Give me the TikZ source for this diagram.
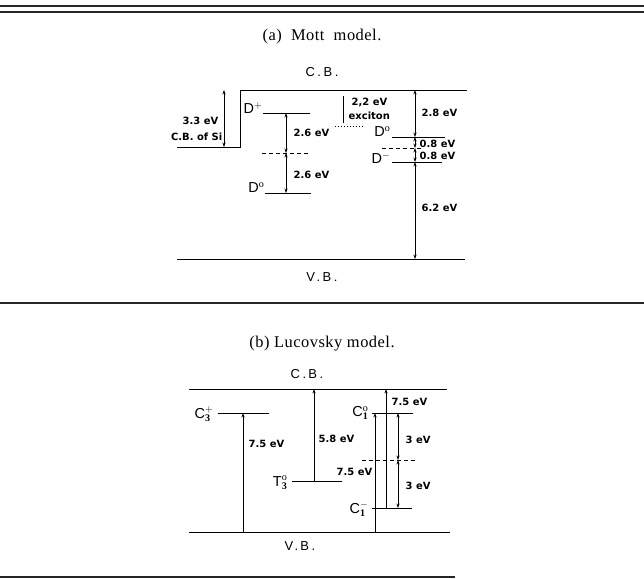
\documentclass[tikz,border=0pt]{standalone}
\usepackage{fontspec}
\setmainfont{Liberation Serif}
\newfontfamily\capfont[LetterSpace=3]{Liberation Serif}
\newfontfamily\labfont{DejaVu Sans}
\newfontfamily\bandfont[LetterSpace=20]{Liberation Sans}
\newfontfamily\lvlfont{Liberation Sans}
\usetikzlibrary{arrows.meta}
\tikzset{
  rule/.style={line width=1.4pt, black!85},
  level/.style={line width=0.9pt},
  dashlevel/.style={line width=0.8pt, dash pattern=on 4pt off 3pt},
  arr/.style={line width=0.6pt, -{Stealth[length=4.5pt,width=3.2pt]}},
  darr/.style={line width=0.6pt, {Stealth[length=4.5pt,width=3.2pt]}-{Stealth[length=4.5pt,width=3.2pt]}},
  ev/.style={font=\labfont\bfseries\fontsize{10}{11}\selectfont, inner sep=0.5pt},
  band/.style={font=\bandfont\fontsize{13}{14}\selectfont, inner sep=0.5pt},
  lvl/.style={font=\lvlfont\fontsize{14.5}{15}\selectfont, inner sep=0.5pt, anchor=east},
  captext/.style={font=\capfont\fontsize{16.5}{18}\selectfont, inner sep=0pt}
}
\begin{document}
\begin{tikzpicture}[x=1bp,y=-1bp]
\useasboundingbox (0,0) rectangle (644,579);
% rules
\draw[rule] (0,6) -- (644,6);
\draw[rule, line width=1.8pt] (0,12) -- (644,12);
\draw[rule] (0,303) -- (644,303);
\draw[rule, line width=1.1pt] (0,577) -- (455,577);

% ================= (a) Mott model
\node[captext] (capa) at (322,37) {(a)\ \ Mott\ \ model.};
\node[band] (cba) at (322,72) {C.B.};
\node[band] (vba) at (322,277) {V.B.};

\coordinate (si0) at (177,147);
\coordinate (si1) at (240,147);
\coordinate (cb0) at (240,90);
\coordinate (cb1) at (467,90);
\draw[level] (si0) -- (si1) -- (cb0) -- (cb1);
\coordinate (vb0) at (177,259);
\coordinate (vb1) at (465,259);
\draw[level] (vb0) -- (vb1);

% 3.3 eV
\coordinate (s33a) at (224,147);
\coordinate (s33b) at (224,90);
\draw[darr] (s33a) -- (s33b);
\node[ev, anchor=east] (l33) at (219,121) {3.3 eV};
\node[ev, anchor=east] (lsi) at (223,137) {C.B. of Si};

% D+ / D0 left
\coordinate (dp0) at (263,113); \coordinate (dp1) at (310,113);
\draw[level] (dp0) -- (dp1);
\node[lvl] (ldp) at (263,108) {D$^{\mathbf{+}}$};
\coordinate (dm0) at (262,153); \coordinate (dm1) at (310,153);
\draw[dashlevel] (dm0) -- (dm1);
\coordinate (dz0) at (265,193); \coordinate (dz1) at (311,193);
\draw[level] (dz0) -- (dz1);
\node[lvl] (ldz) at (265,188) {D$^{\mathrm{o}}$};
\coordinate (a1) at (286,113); \coordinate (a2) at (286,153); \coordinate (a3) at (286,193);
\draw[darr] (a1) -- (a2);
\draw[darr] (a2) -- (a3);
\node[ev, anchor=west] (l26a) at (293,133) {2.6 eV};
\node[ev, anchor=west] (l26b) at (293,175) {2.6 eV};

% exciton
\coordinate (ex0) at (343,96); \coordinate (ex1) at (343,123);
\draw[line width=0.6pt] (ex0) -- (ex1);
\node[ev, anchor=west] (l22) at (351,103) {2,2 eV};
\node[ev, anchor=west] (lex) at (348,116) {exciton};
\coordinate (dt0) at (335,126); \coordinate (dt1) at (364,126);
\draw[line width=0.8pt, dash pattern=on 1pt off 2pt] (dt0) -- (dt1);

% right D0, D-
\coordinate (rz0) at (392,137); \coordinate (rz1) at (445,137);
\draw[level] (rz0) -- (rz1);
\node[lvl] (lrz) at (391,132) {D$^{\mathrm{o}}$};
\coordinate (rm0) at (382,148); \coordinate (rm1) at (422,148);
\draw[dashlevel] (rm0) -- (rm1);
\coordinate (rn0) at (392,162); \coordinate (rn1) at (442,162);
\draw[level] (rn0) -- (rn1);
\node[lvl] (lrn) at (391,158) {D$^{\mathbf{-}}$};
\coordinate (b1) at (415,90); \coordinate (b2) at (415,137);
\coordinate (b3) at (415,148); \coordinate (b4) at (415,162);
\coordinate (b5) at (415,259);
\draw[darr] (b1) -- (b2);
\draw[darr] (b2) -- (b3);
\draw[darr] (b3) -- (b4);
\draw[darr] (b4) -- (b5);
\node[ev, anchor=west] (l28) at (421,113) {2.8 eV};
\node[ev, anchor=west] (l08a) at (419,143.5) {0.8 eV};
\node[ev, anchor=west] (l08b) at (419,156) {0.8 eV};
\node[ev, anchor=west] (l62) at (421,208) {6.2 eV};

% ================= (b) Lucovsky model
\node[captext] (capb) at (322,344) {(b) Lucovsky model.};
\node[band] (cbb) at (307,374) {C.\,B.};
\node[band] (vbb) at (300,546) {V.\,B.};

\coordinate (cc0) at (189,389); \coordinate (cc1) at (447,389);
\draw[level] (cc0) -- (cc1);
\coordinate (vv0) at (189,532); \coordinate (vv1) at (450,532);
\draw[level] (vv0) -- (vv1);

% C3+
\coordinate (c30) at (218,413); \coordinate (c31) at (269,413);
\draw[level] (c30) -- (c31);
\node[lvl] (lc3) at (214,414) {C$_{\mathbf{3}}^{\mathbf{+}}$};
\coordinate (p1) at (243,532); \coordinate (p2) at (243,413);
\draw[arr] (p1) -- (p2);
\node[ev, anchor=west] (l75a) at (248,444) {7.5 eV};

% T3
\coordinate (t0) at (292,481); \coordinate (t1) at (342,481);
\draw[level] (t0) -- (t1);
\node[lvl] (lt3) at (288,483) {T$_{\mathbf{3}}^{\mathrm{o}}$};
\coordinate (q1) at (314,481); \coordinate (q2) at (314,389);
\draw[arr] (q1) -- (q2);
\node[ev, anchor=west] (l58) at (318,439) {5.8 eV};

% C1
\coordinate (c10) at (372,413); \coordinate (c11) at (413,413);
\draw[level] (c10) -- (c11);
\node[lvl] (lc1) at (369,413) {C$_{\mathbf{1}}^{\mathrm{o}}$};
\coordinate (cm0) at (372,508); \coordinate (cm1) at (412,508);
\draw[level] (cm0) -- (cm1);
\node[lvl] (lcm) at (369,509) {C$_{\mathbf{1}}^{\mathbf{-}}$};
\coordinate (dd0) at (362,460); \coordinate (dd1) at (415,460);
\draw[dashlevel] (dd0) -- (dd1);

\coordinate (r1) at (375,532); \coordinate (r2) at (375,413);
\draw[arr] (r1) -- (r2);
\node[ev, anchor=east] (l75b) at (373,472) {7.5 eV};
\coordinate (u1) at (386,508); \coordinate (u2) at (386,389);
\draw[arr] (u1) -- (u2);
\node[ev, anchor=west] (l75c) at (391,402) {7.5 eV};
\coordinate (w1) at (398,413); \coordinate (w2) at (398,460); \coordinate (w3) at (398,508);
\draw[darr] (w1) -- (w2);
\draw[darr] (w2) -- (w3);
\node[ev, anchor=west] (l3a) at (405,440) {3 eV};
\node[ev, anchor=west] (l3b) at (405,486) {3 eV};
\end{tikzpicture}
\end{document}
